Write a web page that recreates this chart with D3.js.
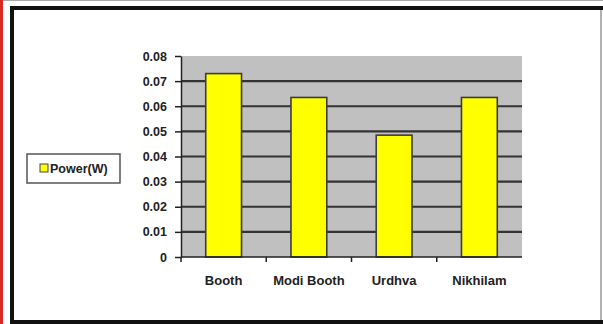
<!DOCTYPE html>
<html>
<head>
<meta charset="utf-8">
<script src="https://cdnjs.cloudflare.com/ajax/libs/d3/7.8.5/d3.min.js"></script>
<style>
  body { margin: 0; background: #fff; }
  svg { display: block; }
  text { font-family: "Liberation Sans", Arial, sans-serif; font-weight: bold; fill: #222; }
</style>
</head>
<body>
<div id="chart"></div>
<script>
// data
const categories = ["Booth", "Modi Booth", "Urdhva", "Nikhilam"];
const powerValues = [0.073, 0.0635, 0.0485, 0.0635];
const yTicks = [0, 0.01, 0.02, 0.03, 0.04, 0.05, 0.06, 0.07, 0.08];
const yTickLabels = ["0", "0.01", "0.02", "0.03", "0.04", "0.05", "0.06", "0.07", "0.08"];
const seriesName = "Power(W)";

const width = 603;
const height = 324;
const plot = { left: 181, right: 522, top: 56, bottom: 257 };

const svg = d3.select("#chart")
  .append("svg")
  .attr("width", width)
  .attr("height", height);

// outer frame
svg.append("rect").attr("x", 0).attr("y", 0).attr("width", 3).attr("height", height).attr("fill", "#d82a22");
svg.append("line").attr("x1", 3).attr("x2", width).attr("y1", 0.5).attr("y2", 0.5)
  .attr("stroke", "#aaa").attr("stroke-width", 1);
svg.append("line").attr("x1", 10).attr("x2", width).attr("y1", 8).attr("y2", 8)
  .attr("stroke", "#111").attr("stroke-width", 4);
svg.append("line").attr("x1", 12).attr("x2", 12).attr("y1", 6).attr("y2", height)
  .attr("stroke", "#111").attr("stroke-width", 4);
svg.append("line").attr("x1", 10).attr("x2", width).attr("y1", 322).attr("y2", 322)
  .attr("stroke", "#111").attr("stroke-width", 4);
svg.append("line").attr("x1", 601).attr("x2", 601).attr("y1", 10).attr("y2", 320)
  .attr("stroke", "#999").attr("stroke-width", 1.5);

// scales
const y = d3.scaleLinear().domain([0, 0.08]).range([plot.bottom, plot.top]);
const xCat = d3.scaleBand().domain(categories).range([plot.left, plot.right]).padding(0);
const xBar = d3.scaleBand().domain(categories).range([plot.left, plot.right])
  .paddingInner(0.58).paddingOuter(0.29);

// plot background
svg.append("rect")
  .attr("x", plot.left).attr("y", plot.top)
  .attr("width", plot.right - plot.left).attr("height", plot.bottom - plot.top)
  .attr("fill", "#c0c0c0");

// gridlines
svg.append("g")
  .selectAll("line")
  .data(yTicks.filter(d => d > 0 && d < 0.08))
  .join("line")
  .attr("x1", plot.left).attr("x2", plot.right)
  .attr("y1", d => y(d)).attr("y2", d => y(d))
  .attr("stroke", "#333").attr("stroke-width", 2.2);

// bars
svg.append("g")
  .selectAll("rect")
  .data(categories)
  .join("rect")
  .attr("x", d => xBar(d))
  .attr("y", (d, i) => y(powerValues[i]))
  .attr("width", xBar.bandwidth())
  .attr("height", (d, i) => y(0) - y(powerValues[i]))
  .attr("fill", "#ffff00")
  .attr("stroke", "#3c3c3c")
  .attr("stroke-width", 1.6);

// y axis
const yAxis = svg.append("g")
  .attr("transform", `translate(${plot.left},0)`)
  .call(d3.axisLeft(y).tickValues(yTicks).tickFormat((d, i) => yTickLabels[i])
    .tickSize(6).tickSizeOuter(0).tickPadding(8));
yAxis.select(".domain").attr("stroke", "#222").attr("stroke-width", 1.5);
yAxis.selectAll(".tick line").attr("stroke", "#222").attr("stroke-width", 1.5);
yAxis.selectAll(".tick text").attr("font-size", 12.5).attr("font-family", "Liberation Sans, Arial, sans-serif")
  .attr("font-weight", "bold").attr("fill", "#222");

// x axis line and boundary ticks
svg.append("line")
  .attr("x1", plot.left).attr("x2", plot.right)
  .attr("y1", plot.bottom).attr("y2", plot.bottom)
  .attr("stroke", "#222").attr("stroke-width", 1.5);
svg.append("g")
  .selectAll("line")
  .data(categories)
  .join("line")
  .attr("x1", d => xCat(d)).attr("x2", d => xCat(d))
  .attr("y1", plot.bottom).attr("y2", plot.bottom + 5)
  .attr("stroke", "#222").attr("stroke-width", 1.5);
svg.append("g")
  .selectAll("text")
  .data(categories)
  .join("text")
  .attr("x", d => xCat(d) + xCat.bandwidth() / 2)
  .attr("y", 285)
  .attr("text-anchor", "middle")
  .attr("font-size", 13)
  .text(d => d);

// legend
const legend = svg.append("g");
legend.append("rect")
  .attr("x", 27).attr("y", 154).attr("width", 93).attr("height", 29)
  .attr("fill", "#fff").attr("stroke", "#555").attr("stroke-width", 1.5);
legend.append("rect")
  .attr("x", 40).attr("y", 164).attr("width", 8).attr("height", 8)
  .attr("fill", "#ffff00").attr("stroke", "#444").attr("stroke-width", 1);
legend.append("text")
  .attr("x", 50).attr("y", 173)
  .attr("font-size", 12.5)
  .text(seriesName);
</script>
</body>
</html>
